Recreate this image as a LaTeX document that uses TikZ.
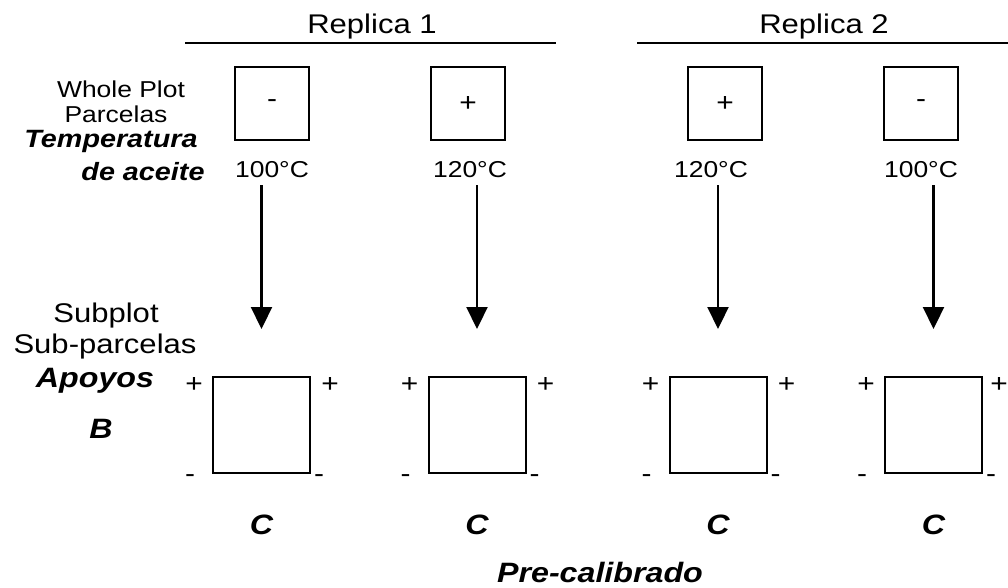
\documentclass[tikz,border=0pt]{standalone}
\usepackage{fontspec}
\setmainfont{Liberation Sans}[FakeStretch=1.15]
\usetikzlibrary{arrows.meta, positioning}

\begin{document}
\begin{tikzpicture}[x=1pt, y=-1pt]
    \tikzstyle{txt} = [font=\fontsize{27}{30}\selectfont, inner sep=0pt, anchor=base]
    \tikzstyle{small} = [font=\fontsize{23}{26}\selectfont, inner sep=0pt, anchor=base]
    \tikzstyle{bold} = [font=\fontsize{28}{30}\selectfont\bfseries\itshape, inner sep=0pt, anchor=base]
    \tikzstyle{wplot} = [rectangle, draw, line width=2pt, minimum width=74pt, minimum height=73pt, inner sep=0pt, font=\fontsize{26}{28}\selectfont]
    \tikzstyle{splot} = [rectangle, draw, line width=2pt, minimum width=97pt, minimum height=96pt, inner sep=0pt]
    \tikzstyle{pm} = [font=\fontsize{26}{28}\selectfont, inner sep=0pt]
    \tikzstyle{rule} = [draw, line width=2pt]
    \tikzstyle{line} = [draw, line width=2.2pt, -{Triangle[width=21pt,length=22pt]}]

    \useasboundingbox (0,0) rectangle (1008,587);

    % replicas
    \node [txt] (rep1) at (372,33) {Replica 1};
    \node [txt] (rep2) at (824,33) {Replica 2};
    \coordinate (r1a) at (185,43);
    \coordinate (r1b) at (556,43);
    \coordinate (r2a) at (637,43);
    \coordinate (r2b) at (1008,43);
    \path [rule] (r1a) -- (r1b);
    \path [rule] (r2a) -- (r2b);

    % whole plot factor
    \node [small] (wp) at (121,97) {Whole Plot};
    \node [small] (parc) at (116,122) {Parcelas};
    \node [bold, font=\fontsize{25}{28}\selectfont\bfseries\itshape] (temp) at (111,147) {Temperatura};
    \node [bold, font=\fontsize{25}{28}\selectfont\bfseries\itshape] (acei) at (143,180) {de aceite};

    \node [wplot] (w1) at (272,103.5) {-};
    \node [wplot] (w2) at (468,103.5) {+};
    \node [wplot] (w3) at (725,103.5) {+};
    \node [wplot] (w4) at (921,103.5) {-};

    \node [small] (t1) at (272,177) {100°C};
    \node [small] (t2) at (470,177) {120°C};
    \node [small] (t3) at (711,177) {120°C};
    \node [small] (t4) at (921,177) {100°C};

    % subplot factor
    \node [txt] (sp) at (106,322) {Subplot};
    \node [txt] (subp) at (105,353) {Sub-parcelas};
    \node [bold] (apoy) at (95,387) {Apoyos};
    \node [bold] (fb) at (101,438) {B};

    \node [splot] (b1) at (261.5,425) {};
    \node [splot] (b2) at (477,425) {};
    \node [splot] (b3) at (718,425) {};
    \node [splot] (b4) at (933.5,425) {};

    \foreach \b/\d in {b1/19, b2/19, b3/19, b4/16} {
        \node [pm] at ([shift={(-18,9)}]\b.north west) {+};
        \node [pm] at ([shift={(\d,9)}]\b.north east) {+};
        \node [pm] at ([shift={(-22,5)}]\b.south west) {-};
        \node [pm] at ([shift={(8,5)}]\b.south east) {-};
        \node [bold] at ([yshift=-158pt]\b.north) {C};
    }

    \node [bold] (prec) at (600,582) {Pre-calibrado};

    % arrows down to the subplots
    \foreach \i in {1,2,3,4} {
        \coordinate (e\i) at ([yshift=47pt]b\i.north);
        \path [line] (t\i.south -| e\i) ++(0,8) -- (e\i);
    }
\end{tikzpicture}
\end{document}
